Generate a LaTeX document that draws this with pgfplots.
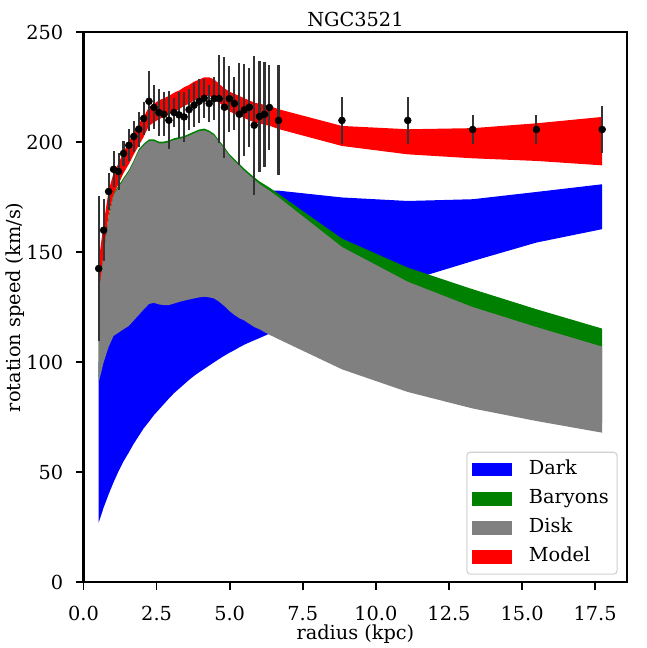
\documentclass[border=0pt]{standalone}
\usepackage{fontspec}
\setmainfont{DejaVu Serif}
\usepackage{pgfplots}
\pgfplotsset{compat=1.18}
\usepgfplotslibrary{fillbetween}
\usepackage{pgfplotstable}

% x y err | model lo hi | dark lo hi | baryons lo hi | disk lo hi
\pgfplotstableread{
x y e mlo mhi kl kh bl bh sl sh
0.52 142.6 33 131 146 27.1 100 93 132 90.8 131.5
0.69 160.0 14 150 163 34 108 102 150.3 100 149.5
0.86 177.6 8.5 167 178 40 114 109 166.3 107 165.5
1.03 187.7 8.2 176.5 186 45.5 118 114 176.8 112 176
1.20 186.7 8.2 181 190.5 50.5 122 115.5 180.3 113.5 179.5
1.37 194.9 5.5 186 195.5 55 126 117 183.8 115 183
1.55 198.6 7.3 190 200 59 130 118.5 187.3 116.5 186.5
1.72 202.6 7 194.5 204.5 63 134 121 191.8 119 191
1.89 205.9 8 198.5 208.5 66.5 138 123.5 196.8 121.5 196
2.06 210.8 7.5 202.5 211.5 70 141.5 126 199.3 124 198.5
2.24 218.6 13.7 207.5 216 73 145 128.5 201.3 126.5 200.5
2.41 215.8 10 209 217.5 76 148 129 201.3 127 200.5
2.58 213.5 10.5 210.5 219 78.5 151 128.3 200.3 126.3 199.5
2.75 212.7 10 211.5 220 81 153.5 128 200.3 126 199.5
2.92 210.0 13.3 212.5 221 83.5 156 128 200.8 126 200
3.10 213.5 6.5 214 222.5 86 158 128.7 201.8 126.7 201
3.27 212.4 10.5 215 223.5 88 160 129.4 202.3 127.4 201.5
3.44 211.5 11.3 216.5 225 90 162 130 202.8 128 202
3.61 214.8 9.2 217.5 226 92 164 130.5 203.8 128.5 203
3.78 216.8 10 219 227.5 93.8 165.5 131 204.8 129 204
3.96 218.6 10 220 228.5 95.5 167 131.5 205.8 129.5 205
4.13 220.0 8.8 221 229.5 97 168.5 131.8 206.2 129.8 205.4
4.30 217.6 8.5 221 229.5 98.5 169.5 131.5 205.3 129.5 204.5
4.47 219.8 9.8 220 228.5 100 170.5 131 203.8 129 203
4.64 219.8 20 218 226.5 101.5 171.5 129.5 200.8 127.5 200
4.82 215.9 23 216 224.5 103 172.5 127.5 197.8 125.5 197
4.99 219.8 15 214 223 104.3 173.5 125.3 194.6 123.3 193.8
5.16 217.6 12.2 213 222 105.5 174.3 123.5 192.4 121.5 191.5
5.33 212.7 23.2 212 221 106.8 175 122 190.2 120 189.3
5.50 214.7 21 211 220 108 175.7 121 188 119 187
5.67 215.9 18 210 219 109 176.3 119.5 186 117.5 185
5.84 207.7 31.5 209 218 110 176.8 118 184.1 116 183
6.02 211.7 25.4 208.5 217.5 111 177.3 117 182.2 115 181
6.19 212.7 23.8 208 217 112 177.7 115.7 180.8 113.7 179.5
6.36 215.8 19.3 207.5 216.5 113 178 114.5 179.4 112.5 178
6.67 209.9 25 206 215 114.5 178 112.5 176.5 110.5 175
8.84 209.9 10.6 198.3 207.4 125 174.9 99.5 156.2 96.8 152.4
11.09 209.9 10.6 194.5 205.9 137 173.3 90 143 86.5 136.6
13.31 205.8 6.5 192.7 206.4 146 174.1 83 133.2 79 125.1
15.49 205.8 6.5 191.5 208.6 154.4 177.4 77.5 124.1 73.3 116
17.74 205.8 10.5 189.5 211.5 160.5 180.9 72.5 115.3 68 107.1
}\data

\definecolor{mgreen}{HTML}{008000}
\definecolor{mgray}{HTML}{808080}

\pgfplotsset{
  patchlegend/.style={legend image code/.code={%
    \fill[#1, sharp corners, draw=none] (0bp,-5bp) rectangle (28.8bp,5bp);
    \path[draw=none, fill=none] (0bp,-5bp) rectangle (38.8bp,5bp);}}
}

\begin{document}
\begin{tikzpicture}
\begin{axis}[
  at={(60.26bp,46.2bp)}, anchor=south west, scale only axis,
  width=392.6bp, height=397.1bp,
  xmin=0, xmax=18.6, ymin=0, ymax=250,
  xtick={0,2.5,5,7.5,10,12.5,15,17.5},
  ytick={0,50,100,150,200,250},
  xtick pos=bottom, ytick pos=left,
  tick align=outside,
  major tick length=5.3bp,
  every tick/.style={black, line width=1.3bp},
  axis line style={line width=1.6bp},
  /pgf/number format/assume math mode=true,
  tick label style={font=\fontsize{14}{16}\selectfont},
  xticklabel style={/pgf/number format/.cd, fixed, fixed zerofill, precision=1,
    /tikz/.cd, inner sep=0pt, anchor=north, yshift=-11.7bp},
  yticklabel style={inner sep=0pt, anchor=east, xshift=-9.1bp},
  title={NGC3521},
  title style={at={(axis description cs:0.5,1)}, anchor=base, yshift=-2bp, font=\fontsize{14}{16}\selectfont},
  xlabel={radius (kpc)},
  xlabel style={at={(axis description cs:0.5,0)}, anchor=base, yshift=-41.2bp, font=\fontsize{14}{16}\selectfont},
  ylabel={rotation speed (km/s)},
  ylabel style={at={(axis description cs:-0.1154,0.5)}, anchor=base, font=\fontsize{14}{16}\selectfont},
  legend style={at={(axis description cs:1,0)}, anchor=south east, xshift=-7bp, yshift=5.5bp,
    draw=black!18, rounded corners=2.5bp, line width=0.8bp, fill=white,
    font=\fontsize{14}{16}\selectfont, inner xsep=4bp, inner ysep=3.5bp, row sep=3bp,
    nodes={inner sep=2bp, text height=10.5bp, text depth=3.5bp}},
  legend cell align=left,
]
\addlegendimage{patchlegend=blue}
\addlegendentry{Dark}
\addlegendimage{patchlegend=mgreen}
\addlegendentry{Baryons}
\addlegendimage{patchlegend=mgray}
\addlegendentry{Disk}
\addlegendimage{patchlegend=red}
\addlegendentry{Model}

% Dark
\addplot[name path=kl, draw=none, forget plot] table[x=x, y=kl] {\data};
\addplot[name path=kh, draw=none, forget plot] table[x=x, y=kh] {\data};
\addplot[fill=blue, draw=none, forget plot] fill between[of=kh and kl];
% Baryons
\addplot[name path=bl, draw=none, forget plot] table[x=x, y=bl] {\data};
\addplot[name path=bh, draw=none, forget plot] table[x=x, y=bh] {\data};
\addplot[fill=mgreen, draw=none, forget plot] fill between[of=bh and bl];
% Disk
\addplot[name path=sl, draw=none, forget plot] table[x=x, y=sl] {\data};
\addplot[name path=sh, draw=none, forget plot] table[x=x, y=sh] {\data};
\addplot[fill=mgray, draw=none, forget plot] fill between[of=sh and sl];
% Model
\addplot[name path=ml, draw=none, forget plot] table[x=x, y=mlo] {\data};
\addplot[name path=mh, draw=none, forget plot] table[x=x, y=mhi] {\data};
\addplot[fill=red, draw=none, forget plot] fill between[of=mh and ml];
% Data
\addplot[only marks, mark=*, mark size=2.5bp, black, mark options={fill=black, draw=black},
  forget plot,
  error bars/.cd, y dir=both, y explicit, error mark=none,
  error bar style={line width=1.5bp, black!80}]
  table[x=x, y=y, y error=e] {\data};
\end{axis}
\path (0,0) rectangle (466.56bp,466.56bp);
\end{tikzpicture}
\end{document}
